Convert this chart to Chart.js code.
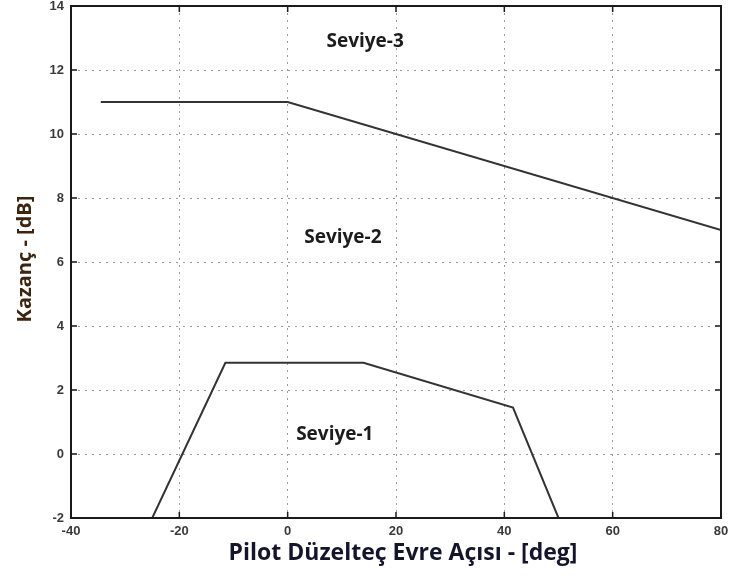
<!DOCTYPE html>
<html>
<head>
    <title>Kazanç - Pilot Düzelteç Evre Açısı</title>
    <script src="https://cdn.jsdelivr.net/npm/chart.js"></script>
    <style>
        html, body { margin: 0; padding: 0; background: #fff; }
        #wrap { width: 731px; height: 583px; }
    </style>
</head>
<body>

<div id="wrap">
    <canvas id="gainChart" width="731" height="583"></canvas>
</div>

<script>
    // Boundary curves
    const upperX = [-34.5, 0, 80];
    const upperY = [11, 11, 7];
    const lowerX = [-25, -11.5, 14, 41.6, 50];
    const lowerY = [-2, 2.85, 2.85, 1.45, -2];

    // Region labels (placed in data coordinates)
    const regionNames = ['Seviye-3', 'Seviye-2', 'Seviye-1'];
    const regionX = [14.3, 10.2, 8.7];
    const regionY = [12.9, 6.75, 0.6];

    const xTicks = [-40, -20, 0, 20, 40, 60, 80];
    const yTicks = [-2, 0, 2, 4, 6, 8, 10, 12, 14];

    const xTitle = 'Pilot Düzelteç Evre Açısı - [deg]';
    const yTitle = 'Kazanç - [dB]';

    const toPoints = (xs, ys) => xs.map((x, i) => ({x: x, y: ys[i]}));

    // Box, inward tick marks, region labels and axis titles
    const decorations = {
        id: 'decorations',
        afterDatasetsDraw(chart) {
            const {ctx, chartArea: a, scales: {x, y}} = chart;
            ctx.save();
            ctx.strokeStyle = '#1a1a1a';
            ctx.lineWidth = 2;
            ctx.strokeRect(a.left, a.top, a.right - a.left, a.bottom - a.top);

            ctx.lineWidth = 1.5;
            ctx.beginPath();
            xTicks.forEach(v => {
                const px = x.getPixelForValue(v);
                ctx.moveTo(px, a.bottom); ctx.lineTo(px, a.bottom - 6);
                ctx.moveTo(px, a.top); ctx.lineTo(px, a.top + 6);
            });
            yTicks.forEach(v => {
                const py = y.getPixelForValue(v);
                ctx.moveTo(a.left, py); ctx.lineTo(a.left + 6, py);
                ctx.moveTo(a.right, py); ctx.lineTo(a.right - 6, py);
            });
            ctx.stroke();

            ctx.fillStyle = '#1c1c1c';
            ctx.font = 'bold 19px "Open Sans", sans-serif';
            ctx.textAlign = 'center';
            ctx.textBaseline = 'middle';
            regionNames.forEach((name, i) => {
                ctx.fillText(name, x.getPixelForValue(regionX[i]), y.getPixelForValue(regionY[i]));
            });

            // axis titles
            ctx.textBaseline = 'alphabetic';
            ctx.fillStyle = '#14142a';
            ctx.font = 'bold 23px "Open Sans", sans-serif';
            ctx.fillText(xTitle, 403, 560);

            ctx.translate(31, 259);
            ctx.rotate(-Math.PI / 2);
            ctx.fillStyle = '#3d2410';
            ctx.font = 'bold 20px "Open Sans", sans-serif';
            ctx.fillText(yTitle, 0, 0);
            ctx.restore();
        }
    };

    const tickFont = {family: '"Liberation Sans", Arial, sans-serif', size: 13, weight: 'bold'};

    new Chart(document.getElementById('gainChart'), {
        type: 'scatter',
        data: {
            datasets: [
                {
                    label: 'Seviye-2/3',
                    data: toPoints(upperX, upperY),
                    showLine: true,
                    borderColor: '#333333',
                    borderWidth: 2,
                    pointRadius: 0
                },
                {
                    label: 'Seviye-1/2',
                    data: toPoints(lowerX, lowerY),
                    showLine: true,
                    borderColor: '#333333',
                    borderWidth: 2,
                    pointRadius: 0
                }
            ]
        },
        options: {
            responsive: false,
            animation: false,
            layout: {padding: {top: 6, right: 10, left: 0, bottom: 0}},
            scales: {
                x: {
                    type: 'linear',
                    min: -40,
                    max: 80,
                    afterBuildTicks: s => { s.ticks = xTicks.map(v => ({value: v})); },
                    afterFit: s => { s.height = 65; s.paddingLeft = 0; s.paddingRight = 0; },
                    ticks: {color: '#3a3a3a', font: tickFont, padding: 6, maxRotation: 0},
                    grid: {color: '#9a9a9a', lineWidth: 1, drawTicks: false},
                    border: {display: false, dash: [2, 5]}
                },
                y: {
                    min: -2,
                    max: 14,
                    afterBuildTicks: s => { s.ticks = yTicks.map(v => ({value: v})); },
                    afterFit: s => { s.width = 71; s.paddingTop = 0; s.paddingBottom = 0; },
                    ticks: {color: '#3a3a3a', font: tickFont, padding: 7},
                    grid: {color: '#9a9a9a', lineWidth: 1, drawTicks: false},
                    border: {display: false, dash: [2, 5]}
                }
            },
            plugins: {
                legend: {display: false},
                tooltip: {enabled: false}
            }
        },
        plugins: [decorations]
    });
</script>
</body>
</html>
